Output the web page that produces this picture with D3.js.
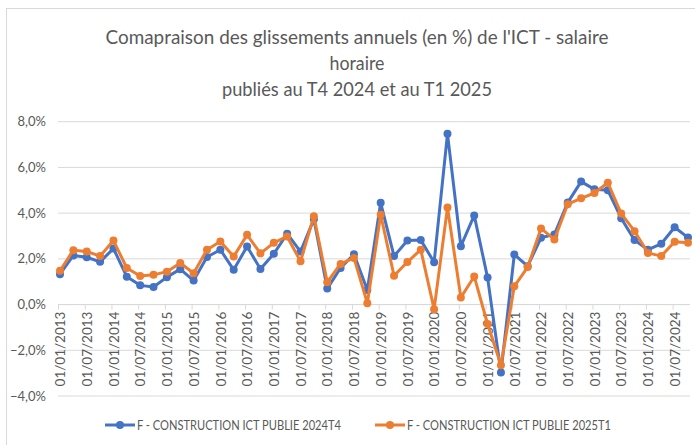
<html>
    <head>
        <title>Glissements annuels ICT</title>
        <script type="text/javascript" src="https://cdn.jsdelivr.net/npm/d3@7"></script>
        <style>
            body { margin: 0; background: white; }
            text { font-family: Lato, "Liberation Sans", sans-serif; fill: #595959; }
        </style>
    </head>
    <body>
        <script type="text/javascript">
            let quarters = ["01/01/2013","01/04/2013","01/07/2013","01/10/2013",
                            "01/01/2014","01/04/2014","01/07/2014","01/10/2014",
                            "01/01/2015","01/04/2015","01/07/2015","01/10/2015",
                            "01/01/2016","01/04/2016","01/07/2016","01/10/2016",
                            "01/01/2017","01/04/2017","01/07/2017","01/10/2017",
                            "01/01/2018","01/04/2018","01/07/2018","01/10/2018",
                            "01/01/2019","01/04/2019","01/07/2019","01/10/2019",
                            "01/01/2020","01/04/2020","01/07/2020","01/10/2020",
                            "01/01/2021","01/04/2021","01/07/2021","01/10/2021",
                            "01/01/2022","01/04/2022","01/07/2022","01/10/2022",
                            "01/01/2023","01/04/2023","01/07/2023","01/10/2023",
                            "01/01/2024","01/04/2024","01/07/2024","01/10/2024"]
            let tick_labels = ["01/01/2013","01/07/2013","01/01/2014","01/07/2014","01/01/2015","01/07/2015",
                               "01/01/2016","01/07/2016","01/01/2017","01/07/2017","01/01/2018","01/07/2018",
                               "01/01/2019","01/07/2019","01/01/2020","01/07/2020","01/01/2021","01/07/2021",
                               "01/01/2022","01/07/2022","01/01/2023","01/07/2023","01/01/2024","01/07/2024"]
            let pub_2024t4 = [1.33, 2.15, 2.07, 1.87, 2.45, 1.22, 0.84, 0.77,
                              1.2, 1.55, 1.05, 2.08, 2.4, 1.52, 2.54, 1.56,
                              2.22, 3.1, 2.32, 3.73, 0.7, 1.6, 2.2, 0.64,
                              4.45, 2.12, 2.8, 2.82, 1.85, 7.47, 2.55, 3.9,
                              1.18, -2.97, 2.19, 1.68, 2.92, 3.07, 4.46, 5.38,
                              5.04, 5.0, 3.78, 2.82, 2.4, 2.66, 3.38, 2.93]
            let pub_2025t1 = [1.48, 2.38, 2.32, 2.12, 2.8, 1.6, 1.25, 1.3,
                              1.44, 1.82, 1.37, 2.4, 2.76, 2.1, 3.05, 2.24,
                              2.7, 2.98, 1.89, 3.86, 0.98, 1.78, 2.04, 0.06,
                              3.93, 1.26, 1.86, 2.4, -0.2, 4.25, 0.31, 1.23,
                              -0.85, -2.65, 0.8, 1.64, 3.33, 2.85, 4.39, 4.65,
                              4.88, 5.33, 3.98, 3.21, 2.26, 2.12, 2.75, 2.7]
            let y_ticks = [-4, -2, 0, 2, 4, 6, 8]
            let series_names = ["F - CONSTRUCTION ICT PUBLIE 2024T4", "F - CONSTRUCTION ICT PUBLIE 2025T1"]
            let colors = ["#4472C4", "#ED7D31"]
            let title_lines = ["Comapraison des glissements annuels (en %) de l'ICT - salaire",
                               "horaire",
                               "publiés au T4 2024 et au T1 2025"]

            let w = 695
            let h = 445

            let svg = d3.select("body")
                        .append("svg")
                        .attr("width", w)
                        .attr("height", h)

            // chart area border
            svg.append("rect")
               .attr("x", 6.5)
               .attr("y", 8.5)
               .attr("width", w - 6)
               .attr("height", h - 8)
               .attr("fill", "white")
               .attr("stroke", "#d9d9d9")

            let title_widths = [503, 55, 270]
            svg.selectAll(".title")
               .data(title_lines)
               .enter()
               .append("text")
               .attr("class", "title")
               .attr("x", 357)
               .attr("y", (d, i) => { return 44 + i * 26 })
               .attr("text-anchor", "middle")
               .attr("font-size", "19px")
               .attr("textLength", (d, i) => { return title_widths[i] })
               .attr("lengthAdjust", "spacingAndGlyphs")
               .text((d) => { return d })

            let x_scale = d3.scalePoint()
                            .domain(quarters)
                            .range([60, 688])
            let y_scale = d3.scaleLinear()
                            .domain([-4, 8])
                            .range([396, 121.7])

            // gridlines
            svg.selectAll(".grid")
               .data(y_ticks)
               .enter()
               .append("line")
               .attr("class", "grid")
               .attr("x1", 58)
               .attr("x2", 690)
               .attr("y1", (d) => { return y_scale(d) })
               .attr("y2", (d) => { return y_scale(d) })
               .attr("stroke", "#d9d9d9")
               .attr("stroke-width", 1)

            // y labels
            svg.selectAll(".ylab")
               .data(y_ticks)
               .enter()
               .append("text")
               .attr("class", "ylab")
               .attr("x", 46)
               .attr("y", (d) => { return y_scale(d) + 4.5 })
               .attr("text-anchor", "end")
               .attr("font-size", "13px")
               .text((d) => { return d3.format(".1f")(d).replace(".", ",") + "%" })

            // x axis on the 0 line
            let x_axis = d3.axisBottom()
                           .scale(x_scale)
                           .tickValues(tick_labels)
                           .tickSize(5)
                           .tickSizeOuter(0)
            let xg = svg.append("g")
                        .attr("transform", "translate(-2," + y_scale(0) + ")")
                        .call(x_axis)
            xg.select(".domain").remove()
            xg.selectAll(".tick line").attr("stroke", "#d9d9d9")
            xg.selectAll(".tick text")
              .attr("transform", "rotate(-90)")
              .attr("text-anchor", "end")
              .attr("x", -7)
              .attr("y", 2)
              .attr("dy", "0.35em")
              .attr("font-size", "13.5px")
              .attr("font-family", "Lato, sans-serif")
              .attr("fill", "#595959")
            svg.append("line")
               .attr("x1", 58)
               .attr("x2", 690)
               .attr("y1", y_scale(0))
               .attr("y2", y_scale(0))
               .attr("stroke", "#d9d9d9")

            let all_series = [pub_2024t4, pub_2025t1]
            let line = d3.line()
                         .x((d, i) => { return x_scale(quarters[i]) })
                         .y((d) => { return y_scale(d) })

            for (let s = 0; s < all_series.length; s++) {
                svg.append("path")
                   .datum(all_series[s])
                   .attr("d", line)
                   .attr("fill", "none")
                   .attr("stroke", colors[s])
                   .attr("stroke-width", 3)
                   .attr("stroke-linejoin", "round")
                svg.selectAll(".pt" + s)
                   .data(all_series[s])
                   .enter()
                   .append("circle")
                   .attr("class", "pt" + s)
                   .attr("cx", (d, i) => { return x_scale(quarters[i]) })
                   .attr("cy", (d) => { return y_scale(d) })
                   .attr("r", 4)
                   .attr("fill", colors[s])
            }

            // legend
            let legend_x = [105, 375]
            for (let s = 0; s < series_names.length; s++) {
                let g = svg.append("g")
                           .attr("transform", "translate(" + legend_x[s] + ",425)")
                g.append("line")
                 .attr("x1", 0)
                 .attr("x2", 30)
                 .attr("stroke", colors[s])
                 .attr("stroke-width", 3)
                g.append("circle")
                 .attr("cx", 15)
                 .attr("r", 4)
                 .attr("fill", colors[s])
                g.append("text")
                 .attr("x", 32)
                 .attr("y", 4.5)
                 .attr("font-size", "13px")
                 .attr("textLength", 204)
                 .attr("lengthAdjust", "spacingAndGlyphs")
                 .text(series_names[s])
            }
        </script>
    </body>
</html>
